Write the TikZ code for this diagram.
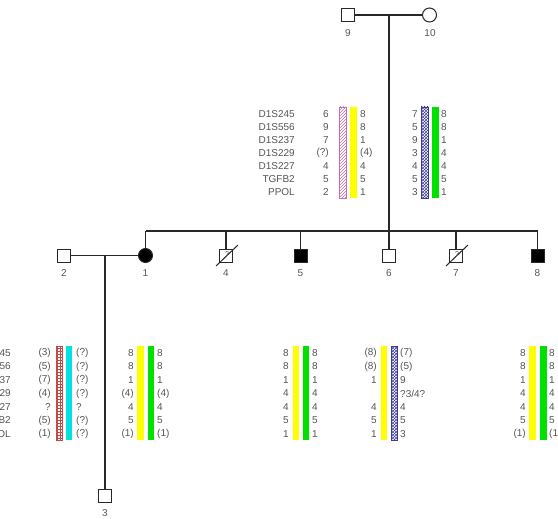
\documentclass[tikz,border=0pt]{standalone}
\usepackage{fontspec}
\setmainfont{Liberation Sans}
\usetikzlibrary{patterns}

\definecolor{linegray}{RGB}{40,40,40}
\definecolor{textgray}{RGB}{85,85,85}
\definecolor{hapyellow}{RGB}{255,255,0}
\definecolor{hapgreen}{RGB}{0,225,0}
\definecolor{hapcyan}{RGB}{0,225,225}
\definecolor{happink}{RGB}{200,110,175}
\definecolor{hapred}{RGB}{200,70,70}
\definecolor{hapblue}{RGB}{60,60,150}

\tikzset{
  ped/.style={line width=1.3pt, draw=linegray},
  male/.style={draw=linegray, line width=1pt, fill=white, minimum size=13pt, inner sep=0pt},
  female/.style={male, circle, minimum size=14pt},
  affmale/.style={male, fill=black},
  afffemale/.style={female, fill=black},
  idlabel/.style={text=textgray, font=\fontsize{10}{12}\selectfont, inner sep=0pt},
  allele/.style={idlabel},
  marker/.style={idlabel, anchor=east},
  unknown/.style={text=textgray, font=\fontsize{7}{8}\selectfont, inner sep=0pt},
  deceased/.style={line width=1pt, draw=linegray}
}

\begin{document}
\begin{tikzpicture}[x=1pt,y=-1pt]
\useasboundingbox (0,0) rectangle (558,519);
\clip (0,0) rectangle (558,519);

% founders
\node[male] (n9) at (348,15) {};
\node[female] (n10) at (429.5,15) {};
\node[idlabel] (l9) at (348,33) {9};
\node[idlabel] (l10) at (430,33) {10};
\coordinate (m910) at (389,15);
\coordinate (sibL) at (145.5,231);
\coordinate (sibR) at (537.5,231);
\draw[ped] (n9.east) -- (n10.west);
\draw[ped] (m910) -- (m910 |- sibL);
\draw[ped] (sibL) -- (sibR);

% sibship
\node[male] (n2) at (64,255.5) {};
\node[afffemale] (n1) at (145.5,255.5) {};
\node[male] (n4) at (226,255.5) {};
\node[affmale] (n5) at (300.5,255.5) {};
\node[male] (n6) at (389,255.5) {};
\node[male] (n7) at (456,255.5) {};
\node[affmale] (n8) at (537.5,255.5) {};
\node[male] (n3) at (105,496) {};

\node[unknown] (q4) at (227,254) {?};
\node[unknown] (q7) at (457,254) {?};
\draw[deceased] ([shift={(-10,10.5)}]n4.center) -- ([shift={(12,-10.5)}]n4.center);
\draw[deceased] ([shift={(-10,10.5)}]n7.center) -- ([shift={(12,-10.5)}]n7.center);

\foreach \n/\t in {n2/2,n1/1,n4/4,n5/5,n6/6,n7/7,n8/8}
  \node[idlabel] (l\t) at (\n |- 0,273) {\t};
\node[idlabel] (l3) at (105,513) {3};

\foreach \n in {n1,n4,n5,n6,n7,n8}
  \draw[ped] (\n |- sibL) -- (\n.north);
\coordinate (m21) at (105,255.5);
\draw[ped] (n2.east) -- (n1.west);
\draw[ped] (m21) -- (n3.north);

% haplotype bars, top
\fill[white] (339,107) rectangle (346,198);
\draw[pattern=north east lines, pattern color=happink, draw=happink, line width=0.6pt] (339,107) rectangle (346,198);
\fill[hapyellow] (350,107) rectangle (357,198);
\draw[pattern=crosshatch, pattern color=hapblue, draw=hapblue, line width=0.6pt] (421,107) rectangle (428,198);
\fill[hapgreen] (432,107) rectangle (439,198);

% haplotype bars, bottom
\draw[pattern=grid, pattern color=hapred, draw=hapred, line width=0.6pt] (56,346) rectangle (62,440);
\fill[hapcyan] (66,346) rectangle (72,440);
\fill[hapyellow] (137,346) rectangle (144,440);
\fill[hapgreen] (148,346) rectangle (154,440);
\fill[hapyellow] (293,346) rectangle (299,440);
\fill[hapgreen] (303,346) rectangle (309,440);
\fill[hapyellow] (381,346) rectangle (387,440);
\draw[pattern=crosshatch, pattern color=hapblue, draw=hapblue, line width=0.6pt] (391,346) rectangle (397,440);
\fill[hapyellow] (529,346) rectangle (536,440);
\fill[hapgreen] (540,346) rectangle (547,440);

% markers
\foreach \m [count=\i] in {D1S245,D1S556,D1S237,D1S229,D1S227,TGFB2,PPOL}
  \node[marker] (mk9\i) at (295,101+13*\i) {\m};
\foreach \m [count=\i] in {D1S245,D1S556,D1S237,D1S229,D1S227,TGFB2,PPOL}
  \node[marker] (mk2\i) at (11,339.5+13.5*\i) {\m};

% alleles, top
\foreach \v [count=\i] in {6,9,7,{(?)},4,5,2}
  \node[allele, anchor=east] (a9l\i) at (329,101+13*\i) {\v};
\foreach \v [count=\i] in {8,8,1,{(4)},4,5,1}
  \node[allele, anchor=west] (a9r\i) at (360,101+13*\i) {\v};
\foreach \v [count=\i] in {7,5,9,3,4,5,3}
  \node[allele, anchor=east] (a10l\i) at (418,101+13*\i) {\v};
\foreach \v [count=\i] in {8,8,1,4,4,5,1}
  \node[allele, anchor=west] (a10r\i) at (441,101+13*\i) {\v};

% alleles, bottom
\foreach \v [count=\i] in {{(3)},{(5)},{(7)},{(4)},?,{(5)},{(1)}}
  \node[allele, anchor=east] (a2l\i) at (51,339.5+13.5*\i) {\v};
\foreach \v [count=\i] in {{(?)},{(?)},{(?)},{(?)},?,{(?)},{(?)}}
  \node[allele, anchor=west] (a2r\i) at (76,339.5+13.5*\i) {\v};
\foreach \v [count=\i] in {8,8,1,{(4)},4,5,{(1)}}
  \node[allele, anchor=east] (a1l\i) at (134,339.5+13.5*\i) {\v};
\foreach \v [count=\i] in {8,8,1,{(4)},4,5,{(1)}}
  \node[allele, anchor=west] (a1r\i) at (157,339.5+13.5*\i) {\v};
\foreach \v [count=\i] in {8,8,1,4,4,5,1}
  \node[allele, anchor=east] (a5l\i) at (289,339.5+13.5*\i) {\v};
\foreach \v [count=\i] in {8,8,1,4,4,5,1}
  \node[allele, anchor=west] (a5r\i) at (312,339.5+13.5*\i) {\v};
\foreach \v [count=\i] in {{(8)},{(8)},1,{},4,5,1}
  \node[allele, anchor=east] (a6l\i) at (377,339.5+13.5*\i) {\v};
\foreach \v [count=\i] in {{(7)},{(5)},9,?3/4?,4,5,3}
  \node[allele, anchor=west] (a6r\i) at (400,339.5+13.5*\i) {\v};
\foreach \v [count=\i] in {8,8,1,4,4,5,{(1)}}
  \node[allele, anchor=east] (a8l\i) at (526,339.5+13.5*\i) {\v};
\foreach \v [count=\i] in {8,8,1,4,4,5,{(1)}}
  \node[allele, anchor=west] (a8r\i) at (549,339.5+13.5*\i) {\v};

\end{tikzpicture}
\end{document}
